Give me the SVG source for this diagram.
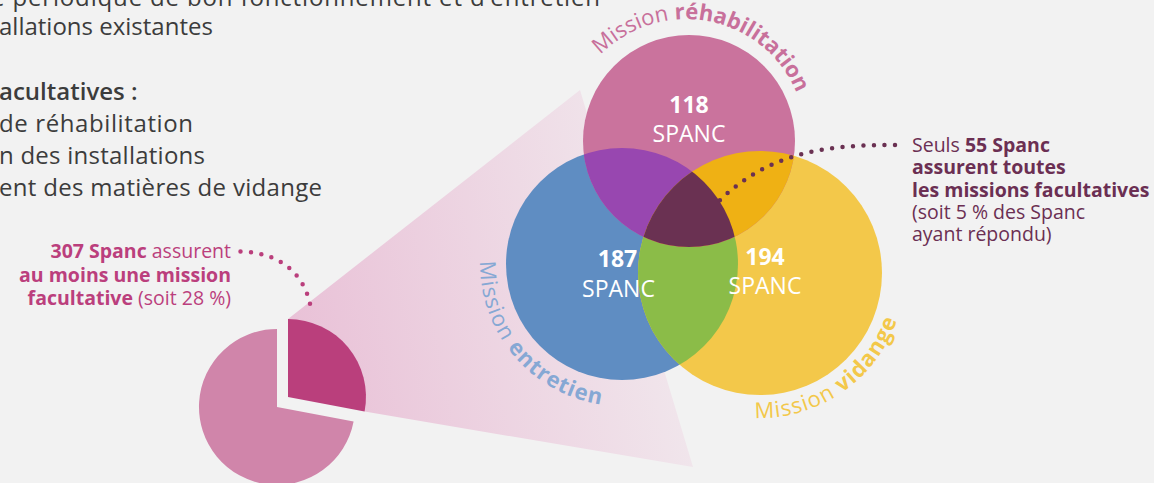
<svg xmlns="http://www.w3.org/2000/svg" width="1154" height="483" viewBox="0 0 1154 483">
<defs>
<style>
.t{font-family:"Open Sans","Noto Sans",sans-serif;}
.body{font-size:24px;fill:#3c3c3c;}
.b{font-weight:700;}
.sb{font-weight:600;}
.num{font-size:23px;fill:#ffffff;text-anchor:middle;}
.arc{font-size:22px;letter-spacing:1px;}
.lblL{font-size:19.5px;fill:#BB3F7D;text-anchor:end;}
.lblR{font-size:19.5px;fill:#6B2F53;}
.dots{fill:none;stroke-width:4.5;stroke-linecap:round;stroke-dasharray:0 10.5;}
</style>
<linearGradient id="cone" gradientUnits="userSpaceOnUse" x1="300" y1="380" x2="690" y2="300">
<stop offset="0" stop-color="#E9C1D7"/>
<stop offset="1" stop-color="#F1E8ED"/>
</linearGradient>
<clipPath id="cB"><circle cx="622" cy="264" r="116"/></clipPath>
<clipPath id="cY"><circle cx="760" cy="273" r="122"/></clipPath>
<clipPath id="cP"><circle cx="689" cy="141" r="106"/></clipPath>
<path id="arcP" d="M582.1,79 A120,120 0 0 1 805.5,128.5"/>
<path id="arcB" d="M482.2,239.3 A142,142 0 0 0 646.7,403.8"/>
<path id="arcY" d="M734.8,415.8 A145,145 0 0 0 904.4,285.6"/>
</defs>
<rect width="1154" height="483" fill="#F2F2F2"/>

<g id="intro" class="t body">
<text x="-9" y="6" textLength="609" lengthAdjust="spacing">e périodique de bon fonctionnement et d’entretien</text>
<text x="-1" y="35">allations existantes</text>
<text x="-1" y="100" class="sb">acultatives :</text>
<text x="-1" y="132" textLength="194" lengthAdjust="spacing">de réhabilitation</text>
<text x="-1" y="164" textLength="206" lengthAdjust="spacing">n des installations</text>
<text x="-1" y="196" textLength="323" lengthAdjust="spacing">ent des matières de vidange</text>
</g>

<g id="cone-zoom">
<path d="M288,319 L580,90 L693,467 L364.6,411.6 Z" fill="url(#cone)"/>
</g>

<g id="pie">
<path d="M277,407 L353.6,421.6 A78,78 0 1 1 277,329 Z" fill="#D085AA"/>
<path d="M288,397 L288,319 A78,78 0 0 1 364.6,411.6 Z" fill="#BA3F7C"/>
</g>

<g id="venn">
<g id="venn-entretien"><circle cx="622" cy="264" r="116" fill="#5F8DC2"/></g>
<g id="venn-vidange"><circle cx="760" cy="273" r="122" fill="#F3C84A"/></g>
<g id="overlap-entretien-vidange" clip-path="url(#cB)"><circle cx="760" cy="273" r="122" fill="#8BBC48"/></g>
<g id="venn-rehabilitation"><circle cx="689" cy="141" r="106" fill="#CA739D"/></g>
<g id="overlap-rehab-entretien" clip-path="url(#cB)"><circle cx="689" cy="141" r="106" fill="#9847B0"/></g>
<g id="overlap-rehab-vidange" clip-path="url(#cY)"><circle cx="689" cy="141" r="106" fill="#EFB114"/></g>
<g id="overlap-all" clip-path="url(#cB)"><g clip-path="url(#cY)"><circle cx="689" cy="141" r="106" fill="#6A3152"/></g></g>
</g>

<g id="venn-numbers" class="t num">
<text x="689" y="113" class="b">118</text>
<text x="689" y="142">SPANC</text>
<text x="617.5" y="267" class="b">187</text>
<text x="618.5" y="296.5">SPANC</text>
<text x="765" y="265" class="b">194</text>
<text x="765" y="293.5">SPANC</text>
</g>

<g id="venn-labels" class="t arc">
<text fill="#C8709B" style="letter-spacing:0px"><textPath href="#arcP" startOffset="30">Mission <tspan class="b">réhabilitation</tspan></textPath></text>
<text fill="#86A8D4"><textPath href="#arcB" startOffset="22">Mission <tspan class="b">entretien</tspan></textPath></text>
<text fill="#F3C84A"><textPath href="#arcY" startOffset="20">Mission <tspan class="b">vidange</tspan></textPath></text>
</g>

<g id="connectors">
<path class="dots" stroke="#BA3F7C" d="M240.5,251.5 C275,252 305,270 311,309"/>
<path class="dots" stroke="#6A3152" d="M895,145 C830,145 770,150 717,203"/>
</g>

<g id="label-left" class="t lblL">
<text x="231" y="258"><tspan class="b">307 Spanc</tspan> assurent</text>
<text x="231" y="282" class="b">au moins une mission</text>
<text x="231" y="305"><tspan class="b">facultative</tspan> (soit 28 %)</text>
</g>

<g id="label-right" class="t lblR">
<text x="912" y="152">Seuls <tspan class="b">55 Spanc</tspan></text>
<text x="912" y="174" class="b">assurent toutes</text>
<text x="912" y="197" class="b">les missions facultatives</text>
<text x="912" y="219">(soit 5 % des Spanc</text>
<text x="912" y="241">ayant répondu)</text>
</g>
</svg>
